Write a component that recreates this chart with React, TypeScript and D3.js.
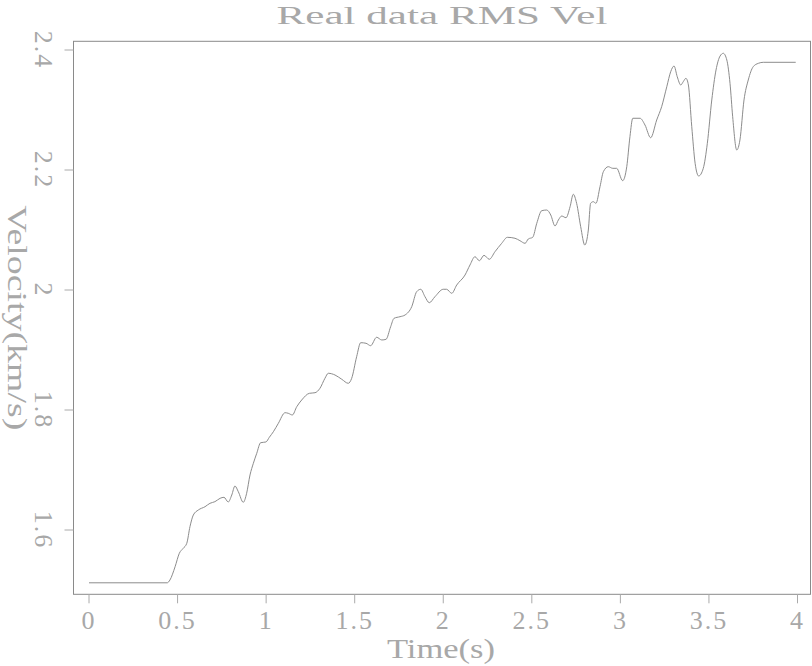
import React from "react";
import * as d3 from "d3";

const title = "Real data RMS Vel";
const xLabel = "Time(s)";
const yLabel = "Velocity(km/s)";
const xTicks = [0, 0.5, 1, 1.5, 2, 2.5, 3, 3.5, 4];
const xTickLabels = ["0", "0.5", "1", "1.5", "2", "2.5", "3", "3.5", "4"];
const yTicks = [1.6, 1.8, 2.0, 2.2, 2.4];
const yTickLabels = ["1.6", "1.8", "2", "2.2", "2.4"];

const times = [
  0, 0.442, 0.457, 0.486, 0.51, 0.532, 0.552, 0.57, 0.589, 0.617, 0.655, 0.683, 0.711, 0.74, 0.762,
  0.786, 0.806, 0.824, 0.843, 0.871, 0.89, 0.909, 0.928, 0.947, 0.969, 0.999, 1.018, 1.041, 1.069,
  1.107, 1.125, 1.148, 1.173, 1.201, 1.244, 1.276, 1.304, 1.332, 1.351, 1.389, 1.427, 1.464, 1.483,
  1.511, 1.534, 1.564, 1.59, 1.624, 1.653, 1.677, 1.703, 1.722, 1.756, 1.784, 1.822, 1.85, 1.873,
  1.897, 1.921, 1.953, 2.0, 2.019, 2.048, 2.076, 2.123, 2.151, 2.179, 2.204, 2.23, 2.26, 2.292,
  2.33, 2.362, 2.405, 2.433, 2.462, 2.48, 2.505, 2.528, 2.556, 2.584, 2.607, 2.631, 2.65, 2.669,
  2.693, 2.716, 2.734, 2.753, 2.776, 2.799, 2.819, 2.832, 2.847, 2.862, 2.885, 2.904, 2.932, 2.957,
  2.979, 3.013, 3.036, 3.054, 3.07, 3.111, 3.139, 3.171, 3.205, 3.233, 3.262, 3.284, 3.303, 3.321,
  3.341, 3.355, 3.37, 3.384, 3.403, 3.422, 3.442, 3.468, 3.491, 3.516, 3.54, 3.563, 3.581, 3.601,
  3.619, 3.634, 3.657, 3.675, 3.698, 3.722, 3.75, 3.779, 3.807, 3.99,
];

const velocities = [
  1.512, 1.512, 1.5167, 1.5388, 1.5612, 1.5695, 1.5778, 1.6055, 1.625, 1.6333, 1.6388, 1.6445,
  1.6472, 1.6528, 1.6545, 1.6467, 1.6583, 1.6733, 1.6638, 1.6462, 1.6612, 1.6917, 1.7112, 1.7278,
  1.7455, 1.7467, 1.7545, 1.7638, 1.7778, 1.7955, 1.7945, 1.7917, 1.8055, 1.8167, 1.8278, 1.8288,
  1.8362, 1.8528, 1.8612, 1.8583, 1.8512, 1.8445, 1.8528, 1.8888, 1.9122, 1.9112, 1.9072, 1.9212,
  1.9167, 1.9178, 1.9388, 1.9528, 1.9555, 1.9583, 1.9722, 1.9972, 2.0012, 1.9888, 1.9788, 1.9888,
  2.0012, 2.0012, 1.9945, 2.0083, 2.025, 2.0417, 2.0555, 2.0488, 2.0578, 2.0512, 2.0638, 2.0778,
  2.0878, 2.0862, 2.0822, 2.0778, 2.085, 2.0878, 2.1112, 2.1322, 2.1333, 2.125, 2.1067, 2.1167,
  2.1233, 2.1205, 2.1388, 2.1595, 2.1445, 2.1055, 2.075, 2.1, 2.1445, 2.1472, 2.1445, 2.1722,
  2.1972, 2.2055, 2.2028, 2.2028, 2.1822, 2.2055, 2.2555, 2.2862, 2.2862, 2.275, 2.2538, 2.2833,
  2.3055, 2.3388, 2.3638, 2.3733, 2.3555, 2.3417, 2.3472, 2.3528, 2.3417, 2.2722, 2.2112, 2.19,
  2.2028, 2.2445, 2.3167, 2.3667, 2.39, 2.3945, 2.3833, 2.3445, 2.2888, 2.2333, 2.25, 2.3167,
  2.35, 2.3722, 2.3778, 2.3795, 2.3795,
];

const W = 812;
const H = 666;
const frame = { left: 73.5, right: 811, top: 41.3, bottom: 594.3 };
const FONT = "'Liberation Serif', 'DejaVu Serif', serif";
const TEXT = "#a8a8a8";

export default function App() {
  const x = d3.scaleLinear().domain([0, 4]).range([89, 797.5]);
  const y = d3.scaleLinear().domain([1.6, 2.4]).range([530, 50]);
  const pts: [number, number][] = times.map((t, i) => [t, velocities[i]]);
  const line = d3
    .line<[number, number]>()
    .x((d) => x(d[0]))
    .y((d) => y(d[1]))
    .curve(d3.curveMonotoneX);

  return (
    <svg
      width={W}
      height={H}
      style={{ position: "absolute", left: 0, top: 0, background: "#fff" }}
      fontFamily={FONT}
    >
      <rect x={0} y={0} width={W} height={H} fill="#fff" />
      <text x={442} y={24} fontSize={26} fill={TEXT} textAnchor="middle" textLength={331} lengthAdjust="spacingAndGlyphs">
        {title}
      </text>
      <rect
        x={frame.left}
        y={frame.top}
        width={frame.right - frame.left - 0.5}
        height={frame.bottom - frame.top}
        fill="none"
        stroke="#8a8a8a"
        strokeWidth={1}
      />
      {xTicks.map((t, i) => (
        <g key={"xt" + i}>
          <line x1={x(t)} x2={x(t)} y1={frame.bottom} y2={frame.bottom + 9} stroke="#aaa" strokeWidth={1} />
          <text x={x(t)} y={628.5} fontSize={26} fill={TEXT} textAnchor="middle" letterSpacing={2}>
            {xTickLabels[i]}
          </text>
        </g>
      ))}
      {yTicks.map((v, i) => (
        <g key={"yt" + i}>
          <line x1={frame.left - 9} x2={frame.left} y1={y(v)} y2={y(v)} stroke="#aaa" strokeWidth={1} />
          <text
            transform={`translate(35,${y(v)}) rotate(90)`}
            fontSize={26}
            fill={TEXT}
            textAnchor="middle"
            letterSpacing={2}
          >
            {yTickLabels[i]}
          </text>
        </g>
      ))}
      <text x={441} y={658} fontSize={28} fill={TEXT} textAnchor="middle" textLength={108} lengthAdjust="spacingAndGlyphs">
        {xLabel}
      </text>
      <text
        transform={`translate(8,${(frame.top + frame.bottom) / 2}) rotate(90)`}
        fontSize={28}
        fill={TEXT}
        textAnchor="middle"
        textLength={225}
        lengthAdjust="spacingAndGlyphs"
      >
        {yLabel}
      </text>
      <path d={line(pts) || ""} fill="none" stroke="#8c8c8c" strokeWidth={1} />
    </svg>
  );
}
